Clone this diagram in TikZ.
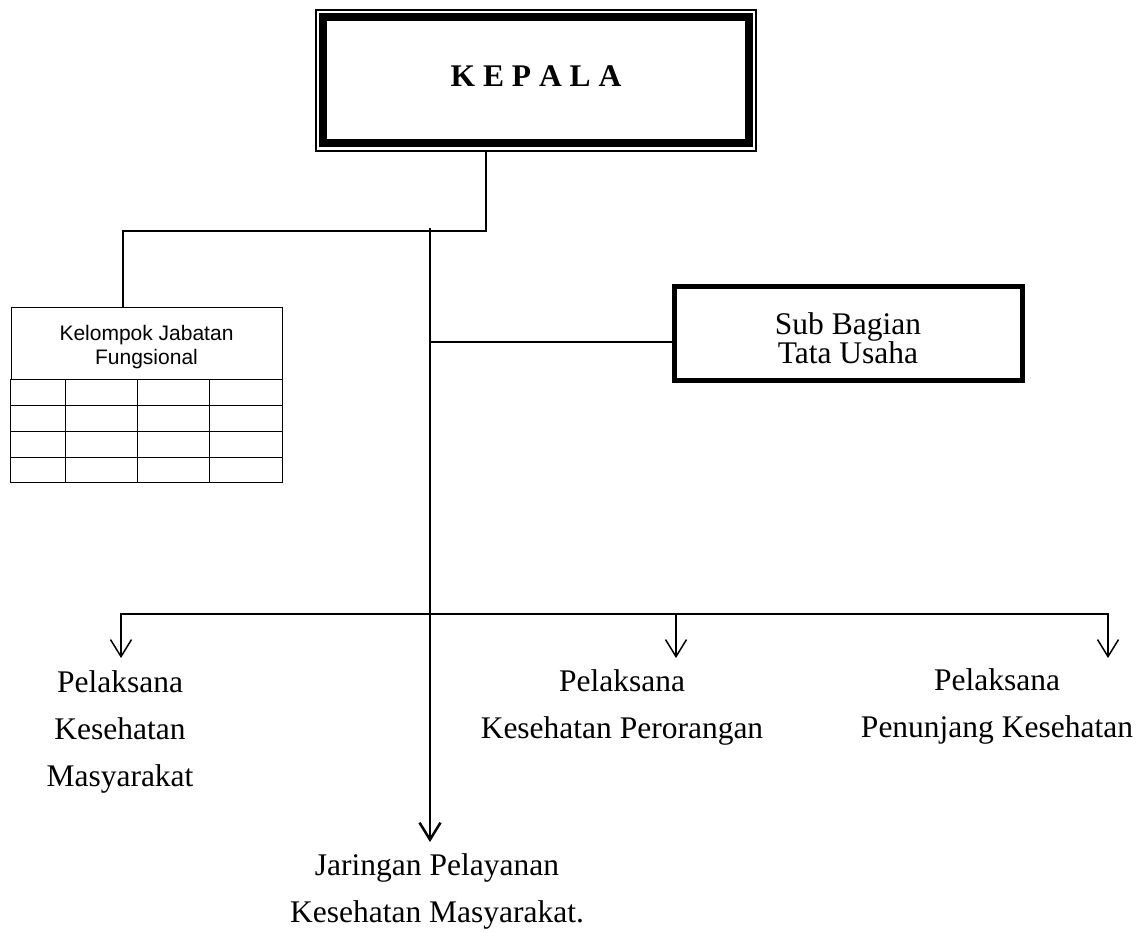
\documentclass[tikz,border=0pt]{standalone}
\usepackage{fontspec}
\setmainfont{Liberation Serif}
\newfontfamily\arialfont{Liberation Sans}
\usetikzlibrary{arrows.meta}

\begin{document}
\begin{tikzpicture}[x=1pt,y=-1pt,line width=1.5pt,
                lbl/.style={font=\fontsize{31.5}{47}\selectfont,align=center,inner sep=0pt},
                arr/.style={-{Straight Barb[length=17pt,width=21pt]}},
                box/.style={draw,rectangle,inner sep=0pt}]
                \useasboundingbox (0,0) rectangle (1145,931);
                \node[box,line width=1.2pt,minimum width=440pt,minimum height=141pt,text depth=8pt,
                      font=\fontsize{31.5}{38}\selectfont\bfseries] (kepala) at (536,80.5) {K E P A L A};
                \draw[line width=8pt] (323,17) rectangle (748.5,142.5);
                \node[box,line width=1pt,minimum width=271pt,minimum height=72pt,align=center,text height=46pt,text depth=4pt,
                      font=\arialfont\fontsize{21}{24}\selectfont] (kjf) at (146.5,343) {Kelompok Jabatan\\Fungsional};
                \draw[line width=1pt] (kjf.south west) rectangle (282,482);
                \foreach \y in {405,431,457} \draw[line width=1pt] (11,\y) -- (282,\y);
                \foreach \x in {65,137,209} \draw[line width=1pt] (\x,379) -- (\x,482);
                \node[box,line width=5pt,minimum width=348pt,minimum height=94pt,align=center,text height=59pt,text depth=0pt,
                      font=\fontsize{31.5}{29}\selectfont] (tu) at (848,333.5) {Sub Bagian\\Tata Usaha};
                \coordinate (k1) at (486,231);
                \coordinate (k2) at (123,231);
                \coordinate (m0) at (430,228);
                \coordinate (m1) at (430,842);
                \coordinate (s0) at (430,342);
                \draw (kepala.south -| k1) -- (k1) -- (k2) -- (k2 |- kjf.north);
                \draw[arr,line width=2.5pt] (m0) -- (m1);
                \draw (s0) -- (s0 -| tu.west);
                \coordinate (b1) at (121,614);
                \coordinate (b2) at (676,614);
                \coordinate (b3) at (1108,614);
                \coordinate (t1) at (121,658);
                \coordinate (t2) at (676,658);
                \coordinate (t3) at (1108,658);
                \draw[line cap=rect] (b1) -- (b3);
                \foreach \i in {1,2,3} \draw[arr] (b\i) -- (t\i);
                \node[lbl,anchor=base] (pkm) at (120,786) {Pelaksana\\Kesehatan\\Masyarakat};
                \node[lbl,anchor=base] (pkp) at (622,738) {Pelaksana\\Kesehatan Perorangan};
                \node[lbl,anchor=base] (ppk) at (997,737) {Pelaksana\\Penunjang Kesehatan};
                \node[lbl,anchor=base] (jpkm) at (437,922) {Jaringan Pelayanan\\Kesehatan Masyarakat.};
            \end{tikzpicture}
\end{document}
